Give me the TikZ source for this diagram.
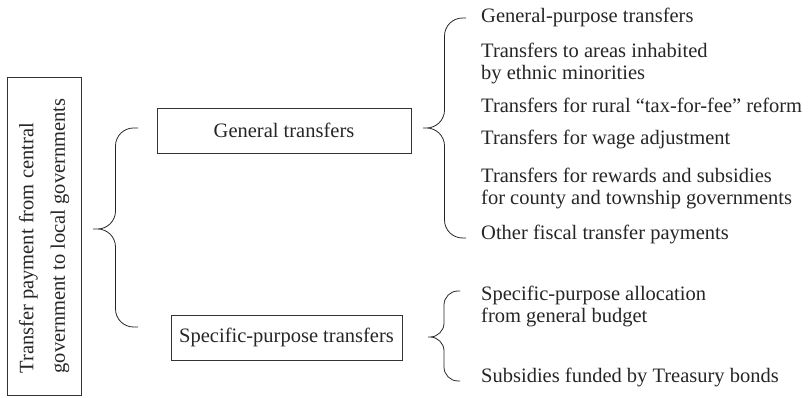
\documentclass[tikz,border=0pt]{standalone}
\usepackage{fontspec}
\setmainfont{Liberation Serif}

\begin{document}
\begin{tikzpicture}[x=1pt, y=1pt, every node/.style={font=\fontsize{20.5}{22.5}\selectfont, text=black!85, inner sep=0pt}, box/.style={draw=black!80, line width=0.8pt}, item/.style={anchor=base west, align=left}, curly/.style={draw=black!85, line width=0.8pt, rounded corners=18pt}]
		\useasboundingbox (0,0) rectangle (812,398);

		\node [box, rotate=90, minimum width=318, minimum height=74, align=left] (0) at (44,162) {Transfer payment from central\\[9pt]government to local governments};
		\node [box, minimum width=254, minimum height=45] (1) at (284,267.5) {General transfers};
		\node [box, minimum width=231, minimum height=45] (2) at (286.5,60.5) {Specific-purpose transfers};

		% two-line items sit on the baseline of their last line
		\node [item] (11) at (481,375) {General-purpose transfers};
		\node [item] (12) at (481,318) {Transfers to areas inhabited\\by ethnic minorities};
		\node [item] (13) at (481,285) {Transfers for rural ``tax-for-fee'' reform};
		\node [item] (14) at (481,253) {Transfers for wage adjustment};
		\node [item] (15) at (481,193) {Transfers for rewards and subsidies\\for county and township governments};
		\node [item] (16) at (481,158) {Other fiscal transfer payments};
		\node [item] (21) at (481,75) {Specific-purpose allocation\\from general budget};
		\node [item] (22) at (481,15) {Subsidies funded by Treasury bonds};

		\coordinate (t0) at (93,169);
		\coordinate (t1) at (423,270);
		\coordinate (t2) at (428,61);

		\draw [curly] (t0) -- ++(22.5,0) |- (138,270) (t0) -- ++(22.5,0) |- (138,71);
		\draw [curly] (t1) -- ++(21.5,0) |- (466,380) (t1) -- ++(21.5,0) |- (466,160);
		\draw [curly, rounded corners=14pt] (t2) -- ++(16,0) |- (460,107) (t2) -- ++(16,0) |- (460,17);

	\end{tikzpicture}
\end{document}
